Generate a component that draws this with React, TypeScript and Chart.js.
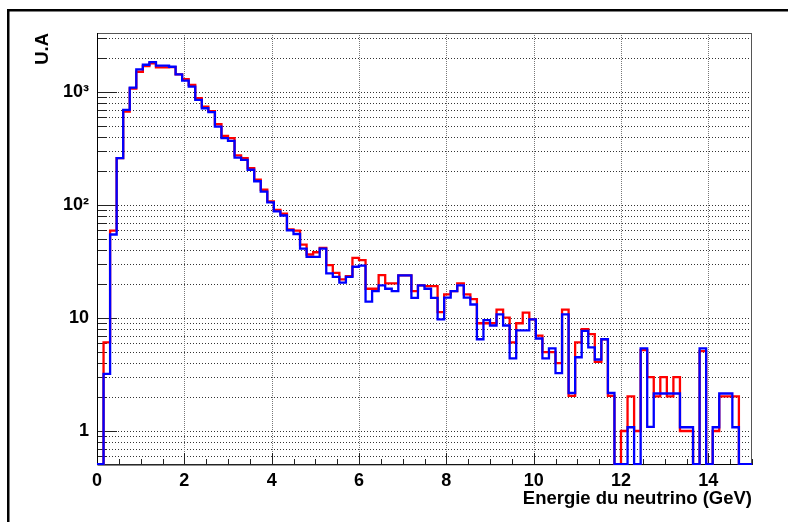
import React, { useEffect, useRef } from 'react';
import { Chart, registerables } from 'chart.js';

Chart.register(...registerables);

// ---- data ----
const BIN_WIDTH = 0.15;
const X_MIN = 0;
const X_MAX = 15;
const Y_MIN = 0.5;
const Y_MAX = 3350;
const ZERO_LEVEL = 0.51; // empty bins are drawn along the bottom of the frame

const RED_VALUES = [
  0, 6.1, 59.6, 261, 674, 1080, 1520, 1706, 1803, 1663,
  1663, 1670, 1440, 1310, 1161, 885, 746, 680, 521, 411,
  393, 276, 261, 213, 168, 137, 108, 91, 84, 61,
  59.6, 44.8, 36.6, 38.3, 41.9, 29.4, 25.2, 22, 23.5, 34.2,
  32.6, 18.2, 18.2, 24, 20.3, 20.3, 23.9, 23.9, 17.3, 19.5,
  19.2, 19.2, 11.3, 16.2, 17.3, 20.3, 16.2, 14.7, 9.0, 9.0,
  9.0, 11.9, 10.1, 6.1, 9.0, 11.2, 9.75, 7.0, 5.0, 5.0,
  4.0, 11.9, 2.05, 6.1, 8.0, 7.2, 4.1, 6.5, 2.05, 0,
  1.0, 2.03, 1.0, 5.2, 3.0, 2.03, 3.0, 2.03, 3.0, 1.0,
  1.0, 0, 5.1, 0, 1.0, 2.03, 2.03, 2.03, 0, 0,
];

const BLUE_VALUES = [
  0, 3.2, 55, 261, 698, 1098, 1596, 1753, 1853, 1720,
  1720, 1683, 1443, 1267, 1122, 855, 722, 666, 497, 393,
  371, 264, 252, 206, 163, 132, 106, 88, 81, 60,
  55.6, 41.3, 34.9, 34.9, 41.3, 24.9, 23.2, 20.6, 23.2, 28.5,
  29.2, 14, 17.3, 19.5, 18.2, 17.3, 23.9, 23.9, 15.1, 19.5,
  18.2, 15.1, 9.75, 15.2, 17.3, 19.5, 15.2, 13.2, 6.5, 9.6,
  8.6, 10.8, 8.6, 4.4, 7.8, 7.8, 9.75, 6.6, 4.4, 5.4,
  3.25, 10.8, 2.17, 4.5, 7.7, 5.5, 4.3, 6.5, 2.17, 0,
  0, 1.08, 0, 5.4, 1.09, 2.15, 2.15, 2.15, 2.15, 1.08,
  1.08, 0, 5.4, 0, 1.08, 2.15, 2.15, 1.08, 0, 0,
];

const X_TICKS = [0, 2, 4, 6, 8, 10, 12, 14];
const X_TICK_LABELS = ['0', '2', '4', '6', '8', '10', '12', '14'];
const X_MINOR_STEP = 0.5;
const Y_TICKS = [1, 10, 100, 1000];
const Y_TICK_LABELS = ['1', '10', '10²', '10³'];
const Y_DECADES = [0.1, 1, 10, 100, 1000];
const Y_MULTIPLIERS = [1, 2, 3, 4, 5, 6, 7, 8, 9];

const X_TITLE = 'Energie du neutrino (GeV)';
const Y_TITLE = 'U.A';

// ---- helpers ----
function histPoints(values: number[]) {
  const pts = values.map((v, i) => ({ x: X_MIN + i * BIN_WIDTH, y: v > 0 ? v : ZERO_LEVEL }));
  const last = values[values.length - 1];
  pts.push({ x: X_MIN + values.length * BIN_WIDTH, y: last > 0 ? last : ZERO_LEVEL });
  return pts;
}

const FONT_FAMILY = '"Liberation Sans", Arial, Helvetica, sans-serif';
const TICK_FONT = { family: FONT_FAMILY, size: 18, weight: 'bold' as const };
const TITLE_FONT = { family: FONT_FAMILY, size: 18.5, weight: 'bold' as const };

const framePlugin = {
  id: 'rootFrame',
  beforeDraw(chart: any) {
    const { ctx, width, height } = chart;
    ctx.save();
    ctx.fillStyle = '#000';
    ctx.fillRect(7, 9, width - 7, 2.5);
    ctx.fillRect(7, 9, 2.5, height - 9);
    ctx.restore();
  },
  beforeDatasetsDraw(chart: any) {
    const { ctx, chartArea } = chart;
    const { left, right, top, bottom } = chartArea;
    const xs = chart.scales.x;
    const ys = chart.scales.y;
    ctx.save();
    ctx.lineWidth = 1;

    // horizontal dotted grid at every log tick
    const yGrid: number[] = [];
    Y_DECADES.forEach((d) => Y_MULTIPLIERS.forEach((m) => {
      const v = d * m;
      if (v > Y_MIN && v < Y_MAX) yGrid.push(v);
    }));
    ctx.strokeStyle = '#333';
    ctx.setLineDash([1, 2]);
    yGrid.forEach((v) => {
      const py = Math.round(ys.getPixelForValue(v)) + 0.5;
      ctx.beginPath();
      ctx.moveTo(left, py);
      ctx.lineTo(right, py);
      ctx.stroke();
    });
    // vertical dotted grid at major x ticks
    ctx.strokeStyle = '#777';
    ctx.setLineDash([1, 1]);
    X_TICKS.forEach((v) => {
      if (v <= X_MIN) return;
      const px = Math.round(xs.getPixelForValue(v)) + 0.5;
      ctx.beginPath();
      ctx.moveTo(px, top);
      ctx.lineTo(px, bottom);
      ctx.stroke();
    });
    ctx.setLineDash([]);

    // y ticks (inside)
    ctx.strokeStyle = '#222';
    yGrid.forEach((v) => {
      const py = Math.round(ys.getPixelForValue(v)) + 0.5;
      const major = Y_TICKS.includes(v);
      ctx.beginPath();
      ctx.moveTo(left, py);
      ctx.lineTo(left + (major ? 20 : 10), py);
      ctx.stroke();
    });
    // x ticks (inside)
    for (let v = X_MIN; v <= X_MAX + 1e-9; v += X_MINOR_STEP) {
      const px = Math.round(xs.getPixelForValue(v)) + 0.5;
      const major = X_TICKS.includes(v);
      ctx.beginPath();
      ctx.moveTo(px, bottom);
      ctx.lineTo(px, bottom - (major ? 12 : 6));
      ctx.stroke();
    }

    // frame
    ctx.strokeStyle = '#555';
    ctx.strokeRect(Math.round(left) + 0.5, Math.round(top) + 0.5, Math.round(right - left) - 1, Math.round(bottom - top) - 1);
    ctx.strokeStyle = '#000';
    ctx.beginPath();
    ctx.moveTo(Math.round(left) + 0.5, top);
    ctx.lineTo(Math.round(left) + 0.5, bottom);
    ctx.lineTo(right, Math.round(bottom) - 0.5);
    ctx.stroke();
    ctx.restore();
  },
};

export default function App() {
  const canvasRef = useRef<HTMLCanvasElement | null>(null);

  useEffect(() => {
    const canvas = canvasRef.current;
    if (!canvas) return;
    const chart = new Chart(canvas, {
      type: 'line',
      data: {
        datasets: [
          {
            label: 'red',
            data: histPoints(RED_VALUES),
            borderColor: '#ff0000',
            borderWidth: 2.3,
            pointRadius: 0,
            pointHoverRadius: 0,
            fill: false,
            stepped: 'before',
            tension: 0,
            order: 2,
            borderJoinStyle: 'miter',
            borderCapStyle: 'butt',
          },
          {
            label: 'blue',
            data: histPoints(BLUE_VALUES),
            borderColor: '#0000ff',
            borderWidth: 2.3,
            pointRadius: 0,
            pointHoverRadius: 0,
            fill: false,
            stepped: 'before',
            tension: 0,
            order: 1,
            borderJoinStyle: 'miter',
            borderCapStyle: 'butt',
          },
        ],
      },
      options: {
        animation: false,
        responsive: false,
        maintainAspectRatio: false,
        devicePixelRatio: 1,
        events: [],
        layout: { padding: { top: 33, right: 36, bottom: 0, left: 0 } },
        plugins: {
          legend: { display: false },
          tooltip: { enabled: false },
          title: { display: false },
        },
        scales: {
          x: {
            type: 'linear',
            min: X_MIN,
            max: X_MAX,
            afterBuildTicks: (s: any) => { s.ticks = X_TICKS.map((v) => ({ value: v })); },
            afterFit: (s: any) => { s.height = 57; },
            grid: { display: false, drawTicks: false },
            border: { display: false },
            ticks: {
              autoSkip: false,
              maxRotation: 0,
              minRotation: 0,
              padding: 5,
              color: '#000',
              font: TICK_FONT,
              callback: (v: any) => {
                const i = X_TICKS.indexOf(Number(v));
                return i >= 0 ? X_TICK_LABELS[i] : '';
              },
            },
            title: {
              display: true,
              text: X_TITLE,
              align: 'end',
              color: '#000',
              font: TITLE_FONT,
              padding: { top: 0, bottom: 12 },
            },
          },
          y: {
            type: 'logarithmic',
            min: Y_MIN,
            max: Y_MAX,
            afterBuildTicks: (s: any) => { s.ticks = Y_TICKS.map((v) => ({ value: v })); },
            afterFit: (s: any) => { s.width = 97; },
            grid: { display: false, drawTicks: false },
            border: { display: false },
            ticks: {
              autoSkip: false,
              padding: 8,
              color: '#000',
              font: TICK_FONT,
              callback: (v: any) => {
                const i = Y_TICKS.indexOf(Number(v));
                return i >= 0 ? Y_TICK_LABELS[i] : '';
              },
            },
            title: {
              display: true,
              text: Y_TITLE,
              align: 'end',
              color: '#000',
              font: TITLE_FONT,
              padding: { top: 32, bottom: 0 },
            },
          },
        },
      },
      plugins: [framePlugin],
    } as any);
    return () => chart.destroy();
  }, []);

  return (
    <div style={{ position: 'fixed', left: 0, top: 0, width: 788, height: 522, background: '#fff' }}>
      <canvas ref={canvasRef} width={788} height={522} style={{ display: 'block', width: 788, height: 522 }} />
    </div>
  );
}
